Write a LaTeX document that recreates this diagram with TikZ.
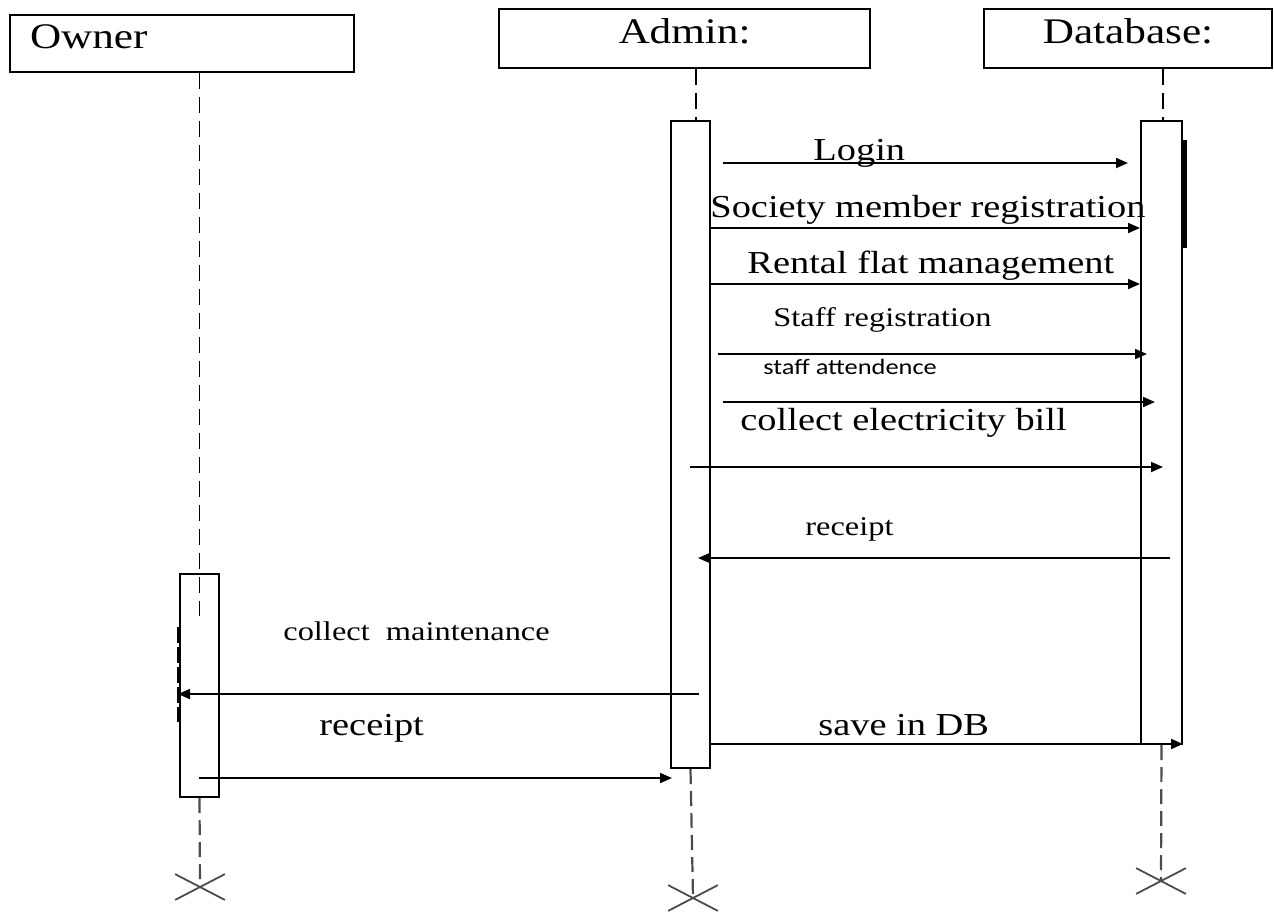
\documentclass[tikz,border=0pt]{standalone}
\usepackage{fontspec}
\setmainfont[FakeStretch=1.2]{Liberation Serif}
\newfontfamily\calib[FakeStretch=1.2]{Carlito}
\usetikzlibrary{arrows.meta, positioning, shapes.misc}

\newcommand{\headfont}{\fontsize{18pt}{21pt}\selectfont}
\newcommand{\msgfont}{\fontsize{16pt}{19pt}\selectfont}
\newcommand{\smallfont}{\fontsize{13.5pt}{16pt}\selectfont}
\newcommand{\tinyfont}{\calib\fontsize{11pt}{13pt}\selectfont}

\begin{document}
\begin{tikzpicture}[x=0.5pt, y=-0.5pt,
    actor/.style={draw, line width=1pt, minimum height=29.5pt, text depth=7pt, inner sep=0pt, font=\headfont},
    bar/.style={draw, line width=1pt, fill=white, minimum width=19.5pt, inner sep=0pt},
    lifeline/.style={line width=0.9pt, dash pattern=on 8pt off 4pt},
    lifeline2/.style={line width=1.1pt, black!70, dash pattern=on 7.5pt off 3.5pt},
    kill/.style={cross out, draw=black!70, line width=0.9pt, minimum width=24pt, minimum height=12pt, inner sep=0pt},
    msg/.style={line width=0.9pt, arrows = {-Stealth[length=6pt, width=5pt, inset=0pt]}},
    lbl/.style={anchor=base west, inner sep=0pt, font=\msgfont}]
    \useasboundingbox (0,0) rectangle (1274,912);

    % Nodes
    \node[actor, minimum width=172pt, text width=152pt, inner xsep=10pt, align=left, minimum height=28.5pt] (owner) at (182,43.5) {Owner};
    \node[actor, minimum width=185.5pt] (admin) at (684.5,38.5) {Admin:};
    \node[actor, minimum width=144pt] (db) at (1128,38.5) {Database:};

    \node[bar, minimum height=323.5pt] (adminbar) at (690.5,444.5) {};
    \node[bar, minimum width=20.5pt, minimum height=311.5pt] (dbbar) at (1161.5,432.5) {};
    \node[bar, minimum height=111.5pt] (ownerbar) at (199.5,685.5) {};

    \node[kill] (ownerx) at (200,887) {};
    \node[kill] (adminx) at (693,898) {};
    \node[kill] (dbx) at (1161,881) {};

    % Lifelines
    \draw[lifeline] (owner.south -| ownerbar.north) -- ([yshift=-21.5pt]ownerbar.north);
    \draw[lifeline] (admin.south -| 696,0) -- (adminbar.north -| 696,0);
    \draw[lifeline] (db.south -| 1163,0) -- (dbbar.north -| 1163,0);
    \draw[lifeline2] (ownerbar.south) -- (ownerx.center);
    \draw[lifeline2] (adminbar.south) -- (adminx.center);
    \draw[lifeline2] (dbbar.south) -- (dbx.center);
    \draw[line width=1.6pt] (1185,140) -- (1185,248);
    \draw[line width=1.3pt, dash pattern=on 8pt off 2pt] (178,627) -- (178,722);

    % Message ends
    \coordinate (login-a) at (723,163);    \coordinate (login-b) at (1128,163);
    \coordinate (member-a) at (710,228);   \coordinate (member-b) at (1140,228);
    \coordinate (rental-a) at (710,284);   \coordinate (rental-b) at (1140,284);
    \coordinate (staff-a) at (718,354);    \coordinate (staff-b) at (1147,354);
    \coordinate (attend-a) at (723,402);   \coordinate (attend-b) at (1155,402);
    \coordinate (bill-a) at (690,467);     \coordinate (bill-b) at (1163,467);
    \coordinate (rcpt-a) at (1170,558);    \coordinate (rcpt-b) at (698,558);
    \coordinate (maint-a) at (699,694);    \coordinate (maint-b) at (178,694);
    \coordinate (save-a) at (710,744);     \coordinate (save-b) at (1183,744);
    \coordinate (orcpt-a) at (199,778);    \coordinate (orcpt-b) at (672,778);

    % Connections
    \draw[msg] (login-a) -- (login-b);
    \draw[msg] (member-a) -- (member-b);
    \draw[msg] (rental-a) -- (rental-b);
    \draw[msg] (staff-a) -- (staff-b);
    \draw[msg] (attend-a) -- (attend-b);
    \draw[msg] (bill-a) -- (bill-b);
    \draw[msg] (rcpt-a) -- (rcpt-b);
    \draw[msg] (maint-a) -- (maint-b);
    \draw[msg] (save-a) -- (save-b);
    \draw[msg] (orcpt-a) -- (orcpt-b);

    % Labels
    \node[lbl] (login-t) at (813,160) {Login};
    \node[lbl] (member-t) at (710,217) {Society member registration};
    \node[lbl] (rental-t) at (747,273) {Rental flat management};
    \node[lbl, font=\smallfont] (staff-t) at (773,326) {Staff registration};
    \node[lbl, font=\tinyfont] (attend-t) at (763,374) {staff attendence};
    \node[lbl] (bill-t) at (740,430) {collect electricity bill};
    \node[lbl, font=\smallfont] (rcpt-t) at (805,535) {receipt};
    \node[lbl, font=\smallfont] (maint-t) at (283,640) {collect\ \ maintenance};
    \node[lbl] (orcpt-t) at (319,735) {receipt};
    \node[lbl] (save-t) at (818,735) {save in DB};
\end{tikzpicture}
\end{document}
